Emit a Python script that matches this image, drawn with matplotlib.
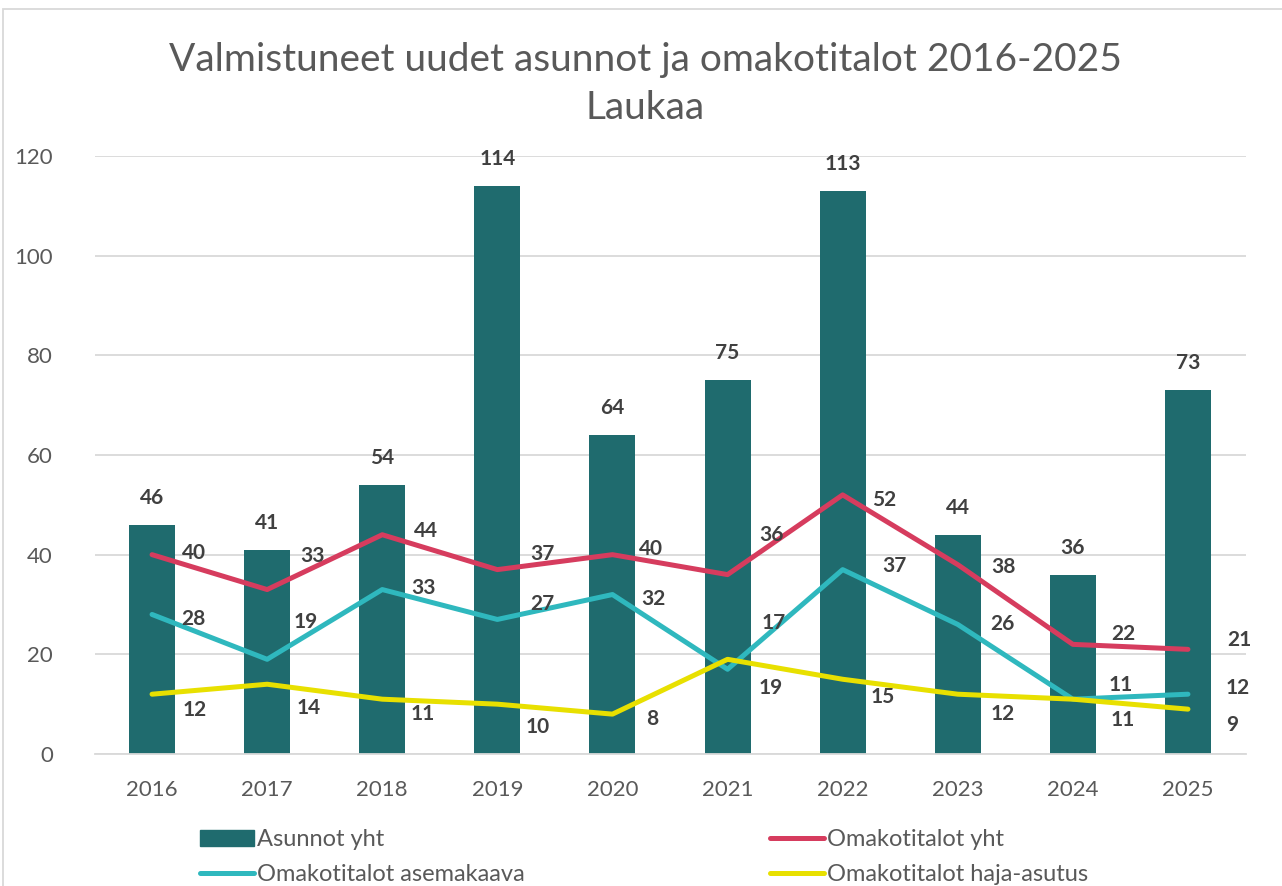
import matplotlib
matplotlib.use("Agg")
import matplotlib.pyplot as plt
from matplotlib.patches import Rectangle, Patch
from matplotlib.lines import Line2D
import numpy as np

years = ["2016", "2017", "2018", "2019", "2020", "2021", "2022", "2023", "2024", "2025"]
asunnot_yht = [46, 41, 54, 114, 64, 75, 113, 44, 36, 73]
okt_yht = [40, 33, 44, 37, 40, 36, 52, 38, 22, 21]
okt_asemakaava = [28, 19, 33, 27, 32, 17, 37, 26, 11, 12]
okt_haja = [12, 14, 11, 10, 8, 19, 15, 12, 11, 9]

# label offsets in pixels (dx, dy with screen y down) -- styling only
red_off = [(42, -2), (45, -34), (44, -4), (45, -16), (39, -6), (44, -40), (42, 5), (46, 2), (51, -10), (51, -9)]
cyan_off = [(41, 5), (39, -37), (41, -2), (45, -15), (41, 4), (46, -46), (52, -4), (45, 0), (48, -14), (50, -6)]
yel_off = [(43, 16), (41, 24), (40, 15), (40, 23), (40, 5), (43, 29), (40, 18), (45, 20), (50, 21), (44, 16)]

C_BAR = "#1f6b6e"
C_RED = "#d63c5e"
C_CYAN = "#2fb8be"
C_YEL = "#e8e000"
C_TXT = "#595959"
C_LBL = "#404040"
FONT = "Lato"

W, H = 1282, 886
fig = plt.figure(figsize=(W / 100, H / 100), dpi=100)
ax = fig.add_axes([94.5 / W, (H - 754) / H, (1245.5 - 94.5) / W, (754 - 156) / H])

x = np.arange(len(years))
ax.bar(x, asunnot_yht, width=0.4, color=C_BAR, zorder=2)
lw = 3.6
ax.plot(x, okt_yht, color=C_RED, lw=lw, solid_capstyle="round", solid_joinstyle="round", zorder=3)
ax.plot(x, okt_asemakaava, color=C_CYAN, lw=lw, solid_capstyle="round", solid_joinstyle="round", zorder=3)
ax.plot(x, okt_haja, color=C_YEL, lw=lw, solid_capstyle="round", solid_joinstyle="round", zorder=3)

ax.set_xlim(-0.5, len(years) - 0.5)
ax.set_ylim(0, 120)
ax.set_yticks(range(0, 121, 20))
ax.set_xticks(x)
ax.set_xticklabels(years)
ax.grid(axis="y", color="#d9d9d9", lw=1.3, zorder=0)
ax.set_axisbelow(True)
for s in ["top", "right", "left"]:
    ax.spines[s].set_visible(False)
ax.spines["bottom"].set_color("#d9d9d9")
ax.spines["bottom"].set_linewidth(1.3)
ax.tick_params(axis="both", length=0, labelsize=16, labelcolor=C_TXT)
ax.tick_params(axis="y", pad=30)
ax.tick_params(axis="x", pad=19)
for lab in ax.get_xticklabels() + ax.get_yticklabels():
    lab.set_fontfamily(FONT)

lblkw = dict(textcoords="offset pixels", ha="center", va="center",
             fontsize=15, fontweight="bold", color=C_LBL, fontfamily=FONT, zorder=5)
for i, v in enumerate(asunnot_yht):
    ax.annotate(str(v), (i, v), xytext=(0, 27), **lblkw)
for series, offs in [(okt_yht, red_off), (okt_asemakaava, cyan_off), (okt_haja, yel_off)]:
    for i, v in enumerate(series):
        dx, dy = offs[i]
        ax.annotate(str(v), (i, v), xytext=(dx, -dy), **lblkw)

fig.text(645 / W, 1 - 60 / H, "Valmistuneet uudet asunnot ja omakotitalot 2016-2025",
         ha="center", va="center", fontsize=28, color=C_TXT, fontfamily=FONT)
fig.text(645 / W, 1 - 108 / H, "Laukaa",
         ha="center", va="center", fontsize=28, color=C_TXT, fontfamily=FONT)

legkw = dict(frameon=False, loc="upper left", borderpad=0, borderaxespad=0,
             handlelength=2.3, handleheight=0.68, handletextpad=0.12,
             labelspacing=0.6, prop={"family": FONT, "size": 17})
h1 = [Patch(color=C_BAR), Line2D([], [], color=C_CYAN, lw=lw, solid_capstyle="round")]
l1 = fig.legend(h1, ["Asunnot yht", "Omakotitalot asemakaava"],
                bbox_to_anchor=(200 / W, 1 - 829 / H), **legkw)
for t in l1.get_texts():
    t.set_color(C_TXT)
h2 = [Line2D([], [], color=C_RED, lw=lw, solid_capstyle="round"),
      Line2D([], [], color=C_YEL, lw=lw, solid_capstyle="round")]
l2 = fig.legend(h2, ["Omakotitalot yht", "Omakotitalot haja-asutus"],
                bbox_to_anchor=(770 / W, 1 - 829 / H), **legkw)
for t in l2.get_texts():
    t.set_color(C_TXT)

fig.add_artist(Rectangle((3 / W, -0.1), 1.2, (H - 9) / H + 0.1, transform=fig.transFigure,
                         fill=False, ec="#d9d9d9", lw=1.3))

fig.savefig("out.png", dpi=100)
